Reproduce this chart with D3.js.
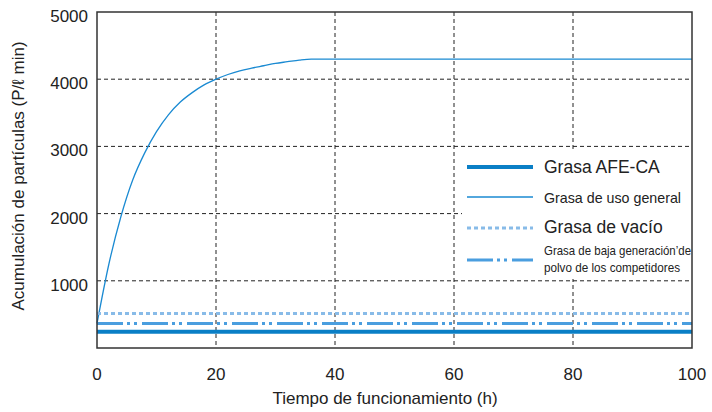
<!DOCTYPE html>
<html>
<head>
<meta charset="utf-8">
<script src="https://cdn.jsdelivr.net/npm/d3@7"></script>
<style>
  body { margin: 0; background: #fff; }
  text { font-family: "Liberation Sans", Arial, sans-serif; fill: #222; }
</style>
</head>
<body>
<svg id="chart" width="712" height="412"></svg>
<script>
// hours and particle counts
var hours = [0, 2, 4, 6, 8, 10, 12, 14, 16, 18, 20, 22, 24, 26, 28, 30, 32, 34, 36, 40, 50, 60, 70, 80, 90, 100];
var generalGrease = [365, 1250, 1950, 2500, 2900, 3220, 3470, 3660, 3800, 3915, 4000, 4070, 4125, 4165, 4200, 4235, 4260, 4285, 4300, 4300, 4300, 4300, 4300, 4300, 4300, 4300];
var afeGrease = [240, 240];
var vacuumGrease = [515, 515];
var competitorGrease = [365, 365];
var flatHours = [0, 100];

var xTicks = [0, 20, 40, 60, 80, 100];
var yTicks = [1000, 2000, 3000, 4000, 5000];
var legendNames = ["Grasa AFE-CA", "Grasa de uso general", "Grasa de vacío", "Grasa de baja generación’de|polvo de los competidores"];

var svg = d3.select("#chart");
var plotLeft = 97, plotRight = 692, plotTop = 12, plotBottom = 348;

var x = d3.scaleLinear().domain([0, 100]).range([plotLeft, plotRight]);
var y = d3.scaleLinear().domain([0, 5000]).range([plotBottom, plotTop]);

// grid
svg.selectAll(".vgrid")
  .data(xTicks.slice(1, -1))
  .enter().append("line")
  .attr("x1", function(d) { return x(d); })
  .attr("x2", function(d) { return x(d); })
  .attr("y1", plotTop).attr("y2", plotBottom)
  .attr("stroke", "#222").attr("stroke-width", 1).attr("stroke-dasharray", "4,3");

svg.selectAll(".hgrid")
  .data(yTicks.slice(0, -1))
  .enter().append("line")
  .attr("x1", plotLeft).attr("x2", plotRight)
  .attr("y1", function(d) { return y(d); })
  .attr("y2", function(d) { return y(d); })
  .attr("stroke", "#222").attr("stroke-width", 1).attr("stroke-dasharray", "4,3");

// legend background hides the grid
svg.append("rect").attr("x", 462).attr("y", 150).attr("width", 228).attr("height", 129).attr("fill", "#fff");

var series = [
  { xs: flatHours, ys: afeGrease, color: "#0a7fc6", width: 4, dash: null },
  { xs: hours, ys: generalGrease, color: "#1a8ad2", width: 1.3, dash: null },
  { xs: flatHours, ys: vacuumGrease, color: "#88bbe8", width: 3, dash: "4,3" },
  { xs: flatHours, ys: competitorGrease, color: "#4a9edf", width: 3, dash: "26,4,3,4,3,5" }
];

var line = d3.line()
  .x(function(d) { return x(d[0]); })
  .y(function(d) { return y(d[1]); })
  .curve(d3.curveMonotoneX);

series.forEach(function(s) {
  svg.append("path")
    .datum(d3.zip(s.xs, s.ys))
    .attr("d", line)
    .attr("fill", "none")
    .attr("stroke", s.color)
    .attr("stroke-width", s.width)
    .attr("stroke-dasharray", s.dash);
});

// frame
svg.append("rect")
  .attr("x", plotLeft).attr("y", plotTop)
  .attr("width", plotRight - plotLeft).attr("height", plotBottom - plotTop)
  .attr("fill", "none").attr("stroke", "#333").attr("stroke-width", 1.5);

// tick labels
svg.selectAll(".xl")
  .data(xTicks)
  .enter().append("text")
  .attr("x", function(d) { return x(d); })
  .attr("y", 380)
  .attr("text-anchor", "middle")
  .attr("font-size", 17)
  .text(function(d) { return d; });

svg.selectAll(".yl")
  .data(yTicks)
  .enter().append("text")
  .attr("x", 88)
  .attr("y", function(d) { return y(d) + 10; })
  .attr("text-anchor", "end")
  .attr("font-size", 17)
  .text(function(d) { return d; });

// axis titles
svg.append("text")
  .attr("x", 385).attr("y", 404)
  .attr("text-anchor", "middle")
  .attr("font-size", 17)
  .text("Tiempo de funcionamiento (h)");

svg.append("text")
  .attr("transform", "translate(24,176) rotate(-90)")
  .attr("text-anchor", "middle")
  .attr("font-size", 17)
  .text("Acumulación de partículas (P/ℓ min)");

// legend
var legY = [167, 197, 228, 260];
series.forEach(function(s, i) {
  svg.append("line")
    .attr("x1", 467).attr("x2", 533)
    .attr("y1", legY[i]).attr("y2", legY[i])
    .attr("stroke", s.color)
    .attr("stroke-width", s.width)
    .attr("stroke-dasharray", s.dash);
});

svg.append("text").attr("x", 544).attr("y", 173).attr("font-size", 17.5).text(legendNames[0]);
svg.append("text").attr("x", 544).attr("y", 203).attr("font-size", 15)
  .attr("textLength", 137).attr("lengthAdjust", "spacingAndGlyphs").text(legendNames[1]);
svg.append("text").attr("x", 544).attr("y", 233).attr("font-size", 17.5).text(legendNames[2]);
var parts = legendNames[3].split("|");
svg.append("text").attr("x", 544).attr("y", 255).attr("font-size", 13.5)
  .attr("textLength", 147).attr("lengthAdjust", "spacingAndGlyphs").text(parts[0]);
svg.append("text").attr("x", 544).attr("y", 272).attr("font-size", 13.5)
  .attr("textLength", 136).attr("lengthAdjust", "spacingAndGlyphs").text(parts[1]);
</script>
</body>
</html>
